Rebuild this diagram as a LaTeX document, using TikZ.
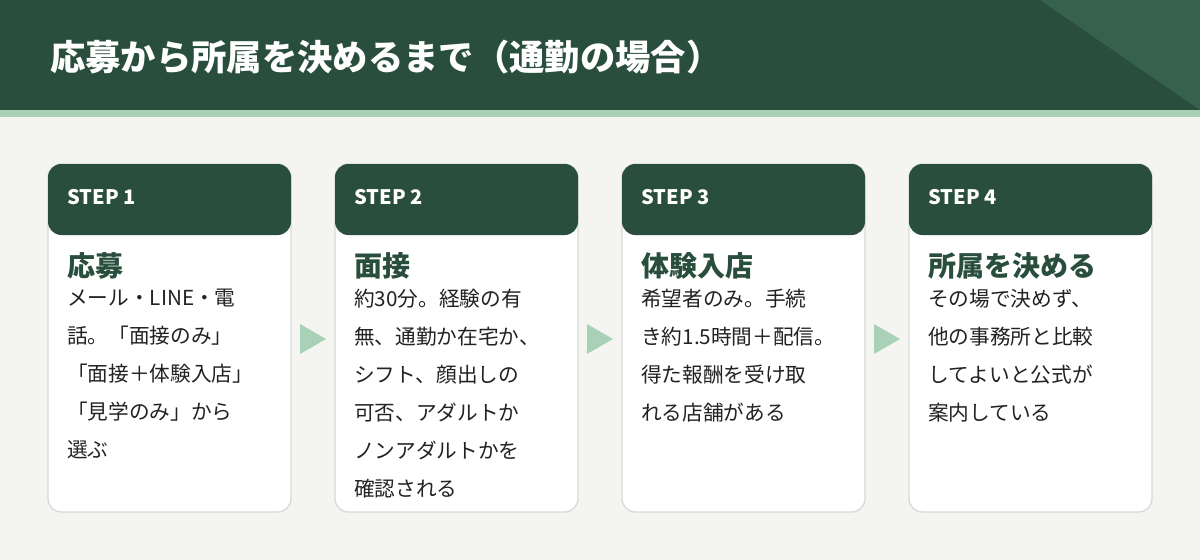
\documentclass[tikz,border=0pt]{standalone}
\usepackage{fontspec}
\setmainfont{Noto Sans CJK JP}
\usetikzlibrary{positioning}
\definecolor{darkgrn}{HTML}{294E3D}
\definecolor{midgrn}{HTML}{36614D}
\definecolor{palegrn}{HTML}{A8D1B8}
\definecolor{bggray}{HTML}{F4F5F0}
\definecolor{bodytxt}{HTML}{222222}
\tikzset{
  card/.style={draw=black!15,line width=1pt,fill=white,rounded corners=10pt},
  cardhead/.style={fill=darkgrn,rounded corners=10pt},
  steplbl/.style={anchor=west,text=white,font=\bfseries\fontsize{15}{18}\selectfont,inner sep=0pt},
  cardttl/.style={anchor=north west,text=darkgrn,font=\bfseries\fontsize{21}{26}\selectfont,inner sep=0pt},
  cardbody/.style={anchor=north west,text=bodytxt,align=left,font=\fontsize{15.5}{28.5}\selectfont,inner sep=0pt},
  nextarrow/.style={fill=palegrn}
}
\begin{document}
\begin{tikzpicture}[x=0.75pt,y=-0.75pt]
\useasboundingbox (0,0) rectangle (1200,560);
\fill[bggray] (0,0) rectangle (1200,560);
% header band
\fill[darkgrn] (0,0) rectangle (1200,110);
\fill[midgrn] (1040,0) -- (1200,0) -- (1200,110) -- cycle;
\fill[palegrn] (0,110) rectangle (1200,117);
\node[anchor=west,text=white,font=\bfseries\fontsize{26.5}{30}\selectfont,inner sep=0pt] (title) at (50,57) {応募から所属を決めるまで（通勤の場合）};

% cards
\foreach \i/\x in {1/48,2/335,3/622,4/909}{
  \draw[card] (\x,164) rectangle ++(243,348);
  \fill[cardhead] (\x,164) rectangle ++(243,71);
  \node[steplbl] (step\i) at (\x+19,197) {STEP \i};
}
\node[cardttl] (ttl1) at (67,252) {応募};
\node[cardttl] (ttl2) at (354,252) {面接};
\node[cardttl] (ttl3) at (641,252) {体験入店};
\node[cardttl] (ttl4) at (928,252) {所属を決める};

\node[cardbody] (body1) at (67,289) {メール・LINE・電\\話。「面接のみ」\\「面接＋体験入店」\\「見学のみ」から\\選ぶ};
\node[cardbody] (body2) at (354,289) {約30分。経験の有\\無、通勤か在宅か、\\シフト、顔出しの\\可否、アダルトか\\ノンアダルトかを\\確認される};
\node[cardbody] (body3) at (641,289) {希望者のみ。手続\\き約1.5時間＋配信。\\得た報酬を受け取\\れる店舗がある};
\node[cardbody] (body4) at (928,289) {その場で決めず、\\他の事務所と比較\\してよいと公式が\\案内している};

% arrows between cards
\foreach \x in {300,587,874}{
  \fill[nextarrow] (\x,324) -- (\x+26,339) -- (\x,354) -- cycle;
}
\end{tikzpicture}
\end{document}
